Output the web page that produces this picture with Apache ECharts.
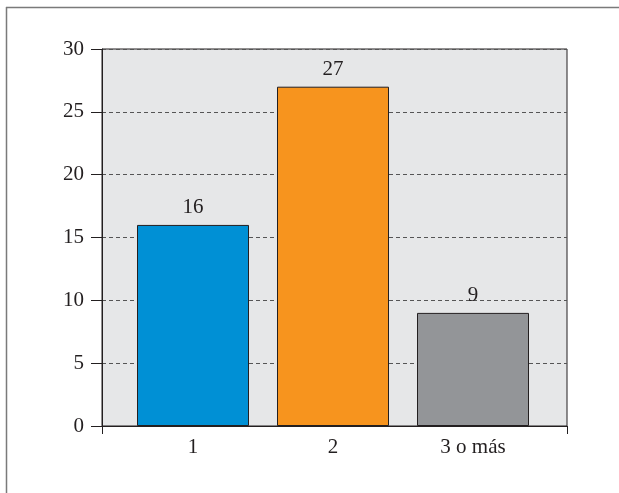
<!DOCTYPE html>
<html>
<head>
<meta charset="utf-8">
<script src="https://cdn.jsdelivr.net/npm/echarts@6/dist/echarts.min.js"></script>
<style>html,body{margin:0;padding:0;background:#fff}#c{width:619px;height:493px}</style>
</head>
<body>
<div id="c"></div>
<script>
const categories = ['1', '2', '3 o más'];
const values = [16, 27, 9];
const barColors = ['#0090d5', '#f7941e', '#939598'];
const yTicks = [0, 5, 10, 15, 20, 25, 30];

const FONT = '"Liberation Serif", serif';
const TXT = '#231f20';
const chart = echarts.init(document.getElementById('c'));
chart.setOption({
  animation: false,
  backgroundColor: '#ffffff',
  graphic: [
    { type: 'line', shape: { x1: 6, y1: 7.5, x2: 619, y2: 7.5 }, style: { stroke: '#7a7a7a', lineWidth: 1.5 } },
    { type: 'line', shape: { x1: 6.5, y1: 7, x2: 6.5, y2: 493 }, style: { stroke: '#7a7a7a', lineWidth: 1.5 } }
  ],
  grid: [
    { left: 102, right: 52, top: 49, bottom: 67, show: true, backgroundColor: '#e6e7e8', borderColor: '#231f20', borderWidth: 1 },
    { left: 123, right: 76, top: 49, bottom: 67 }
  ],
  xAxis: [
    { gridIndex: 0, type: 'value', min: 0, max: 1, interval: 1,
      axisLine: { show: true, lineStyle: { color: '#231f20', width: 1 } },
      axisTick: { show: true, length: 8, lineStyle: { color: '#231f20' } },
      axisLabel: { show: false }, splitLine: { show: false } },
    { gridIndex: 1, type: 'category', data: categories,
      axisLine: { show: false }, axisTick: { show: false },
      axisLabel: { fontFamily: FONT, fontSize: 21, color: TXT, margin: 11 } }
  ],
  yAxis: [
    { gridIndex: 0, type: 'value', min: 0, max: 30, interval: 5,
      axisLine: { show: true, lineStyle: { color: '#231f20', width: 1 } },
      axisTick: { show: true, length: 11, lineStyle: { color: '#231f20' } },
      axisLabel: { fontFamily: FONT, fontSize: 21, color: TXT, margin: 18,
        formatter: v => yTicks.includes(v) ? String(v) : '' },
      splitLine: { show: true, lineStyle: { color: '#555555', type: [4, 3], width: 1 } } },
    { gridIndex: 1, type: 'value', min: 0, max: 30, show: false }
  ],
  series: [{
    type: 'bar', xAxisIndex: 1, yAxisIndex: 1, barWidth: 112,
    data: values.map((v, i) => ({ value: v, itemStyle: { color: barColors[i] } })),
    itemStyle: { borderColor: '#231f20', borderWidth: 1 },
    label: { show: true, position: 'top', distance: 7, fontFamily: FONT, fontSize: 21, color: TXT }
  }]
});
</script>
</body>
</html>
